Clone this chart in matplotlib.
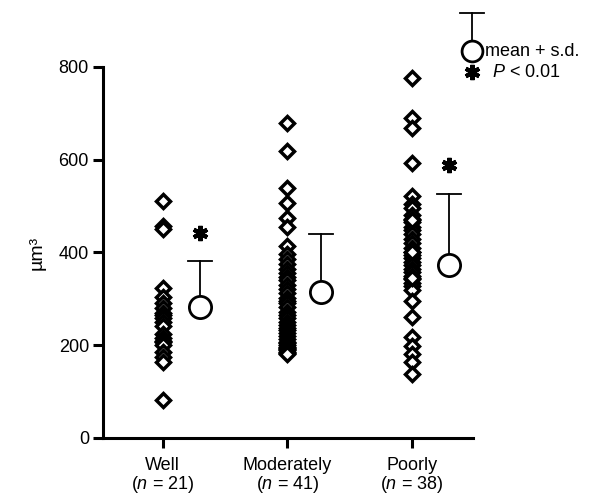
import matplotlib
matplotlib.use("Agg")
import matplotlib.pyplot as plt
import numpy as np

plt.rcParams['font.family'] = ['Liberation Sans', 'DejaVu Sans']
plt.rcParams['mathtext.fontset'] = 'custom'
plt.rcParams['mathtext.it'] = 'Liberation Sans:italic'
plt.rcParams['mathtext.rm'] = 'Liberation Sans'

# ---- data ----
groups = ["Well", "Moderately", "Poorly"]
n_labels = ["21", "41", "38"]
well = [510, 457, 450, 324, 303, 292, 280, 270, 265, 258, 250, 242, 225,
        215, 210, 206, 200, 185, 175, 163, 82]
moderately = [680, 618, 539, 507, 475, 454, 413, 396, 385, 375, 365, 355,
              348, 340, 330, 322, 312, 302, 296, 290, 282, 272, 265, 258,
              250, 244, 238, 232, 226, 220, 214, 208, 204, 200, 197, 194,
              191, 189, 186, 184, 182]
poorly = [776, 690, 668, 593, 521, 505, 495, 480, 472, 465, 455, 448, 440,
          430, 420, 410, 402, 395, 388, 380, 372, 365, 358, 350, 342, 335,
          327, 318, 295, 260, 217, 198, 181, 163, 138, 470, 400, 345]
means = [282, 315, 372]
sds = [99, 124, 153]
sig_y = [443, None, 589]
mean_offsets = [0.30, 0.27, 0.30]
yticks = [0, 200, 400, 600, 800]

series = [well, moderately, poorly]
FS = 13

fig = plt.figure(figsize=(5.98, 4.96), dpi=100)
ax = fig.add_axes([0.172, 0.117, 0.619, 0.748])

for i, vals in enumerate(series):
    x = i + 1
    ax.plot([x] * len(vals), vals, linestyle='none', marker='D', markersize=7.2,
            markerfacecolor='white', markeredgecolor='black', markeredgewidth=2.5,
            clip_on=False, zorder=3)
    mx = x + mean_offsets[i]
    ax.plot([mx, mx], [means[i], means[i] + sds[i]], color='black', lw=1.3, zorder=2)
    ax.plot([mx - 0.095, mx + 0.095], [means[i] + sds[i]] * 2, color='black', lw=1.3)
    ax.plot([mx], [means[i]], marker='o', markersize=16, markerfacecolor='white',
            markeredgecolor='black', markeredgewidth=2.0, zorder=4)
    if sig_y[i] is not None:
        ax.plot([mx], [sig_y[i]], marker=(6, 2, 0), markersize=11,
                markeredgecolor='black', markeredgewidth=3.0, linestyle='none')

# legend drawn in data coordinates outside the axes
lx = 3.48
ax.plot([lx, lx], [834, 916], color='black', lw=1.3, clip_on=False)
ax.plot([lx - 0.095, lx + 0.095], [916, 916], color='black', lw=1.3, clip_on=False)
ax.plot([lx], [834], marker='o', markersize=15, markerfacecolor='white',
        markeredgecolor='black', markeredgewidth=2.0, clip_on=False, zorder=5)
ax.text(lx + 0.11, 834, "mean + s.d.", fontsize=FS, va='center', ha='left')
ax.plot([lx], [789], marker=(6, 2, 0), markersize=11, markeredgecolor='black',
        markeredgewidth=3.0, clip_on=False, linestyle='none')
ax.text(lx + 0.165, 789, "$P$ < 0.01", fontsize=FS, va='center', ha='left')

ax.set_xlim(0.52, 3.49)
ax.set_ylim(0, 800)
ax.set_yticks(yticks)
ax.set_yticklabels([str(t) for t in yticks], fontsize=FS)
ax.set_xticks([1, 2, 3])
ax.set_xticklabels([f"{g}\n($n$ = {n})" for g, n in zip(groups, n_labels)],
                   fontsize=FS, linespacing=0.95)
ax.set_ylabel("µm³", fontsize=FS + 1, labelpad=9)

for s in ['top', 'right']:
    ax.spines[s].set_visible(False)
for s in ['left', 'bottom']:
    ax.spines[s].set_linewidth(2.2)
ax.tick_params(axis='both', direction='out', length=7, width=2.2)
ax.tick_params(axis='x', pad=7)
ax.tick_params(axis='y', pad=3)

fig.savefig("out.png", dpi=100)
